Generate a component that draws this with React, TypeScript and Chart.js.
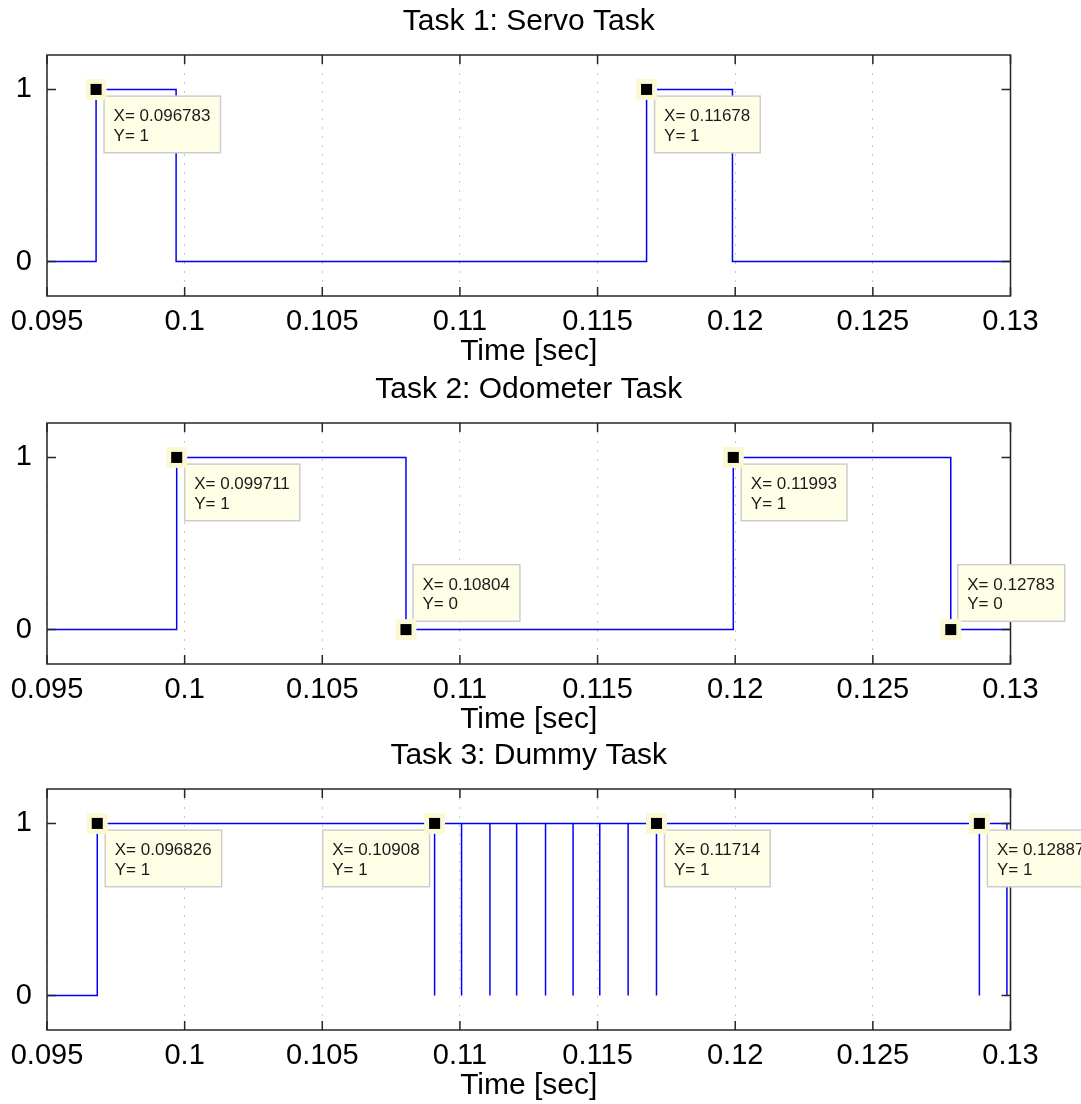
import React, { useEffect, useRef } from 'react';
import { Chart, registerables } from 'chart.js';

Chart.register(...registerables);

const FONT = "'Liberation Sans', Arial, Helvetica, sans-serif";
const TIP_FONT = "'Liberation Sans', Arial, sans-serif";

// ---- axes ----
const xTicks = [0.095, 0.1, 0.105, 0.11, 0.115, 0.12, 0.125, 0.13];
const yTicks = [0, 1];
const xLabel = 'Time [sec]';
const titles = ['Task 1: Servo Task', 'Task 2: Odometer Task', 'Task 3: Dummy Task'];

// ---- Task 1: Servo ----
const servoTimes = [0.095, 0.096783, 0.09969, 0.11678, 0.1199, 0.13];
const servoLevels = [0, 1, 0, 1, 0, 0];
const servoTipX = [0.096783, 0.11678];
const servoTipY = [1, 1];

// ---- Task 2: Odometer ----
const odoTimes = [0.095, 0.099711, 0.10804, 0.11993, 0.12783, 0.13];
const odoLevels = [0, 1, 0, 1, 0, 0];
const odoTipX = [0.099711, 0.10804, 0.11993, 0.12783];
const odoTipY = [1, 0, 1, 0];

// ---- Task 3: Dummy ----
const dummyTimes = [0.095, 0.096826];
const dummyLevels = [0, 1];
const dummyDips = [0.10908, 0.11006, 0.11109, 0.11206, 0.11311, 0.11411, 0.11508, 0.11611, 0.11714, 0.12887, 0.12987];
const dummyEnd = 0.13;
const dummyTipX = [0.096826, 0.10908, 0.11714, 0.12887];
const dummyTipY = [1, 1, 1, 1];

// tip box placement (style only)
const servoTipSide = ['se', 'se'];
const odoTipSide = ['se', 'ne', 'se', 'ne'];
const dummyTipSide = ['se', 'sw', 'se', 'se'];

type Pt = { x: number; y: number };

const stepPoints = (t: number[], v: number[]): Pt[] => t.map((x, i) => ({ x, y: v[i] }));

const servoPoints = stepPoints(servoTimes, servoLevels);
const odoPoints = stepPoints(odoTimes, odoLevels);
const dummyPoints: Pt[] = [
  ...stepPoints(dummyTimes, dummyLevels),
  ...dummyDips.flatMap((d) => [
    { x: d, y: 0 },
    { x: d, y: 1 },
  ]),
  { x: dummyEnd, y: 1 },
];

function makeFramePlugin(tipX: number[], tipY: number[], tipSide: string[]) {
  return {
    id: 'matlabFrame',
    afterDatasetDraw(chart: any, args: any) {
      if (args.index !== 0) return;
      const { ctx, chartArea: a, scales } = chart;
      const xs = scales.x;
      const ys = scales.y;
      ctx.save();
      ctx.setLineDash([]);
      ctx.strokeStyle = '#262626';
      ctx.lineWidth = 1.5;
      ctx.strokeRect(a.left, a.top, a.right - a.left, a.bottom - a.top);
      ctx.beginPath();
      xTicks.forEach((v) => {
        const p = xs.getPixelForValue(v);
        ctx.moveTo(p, a.bottom);
        ctx.lineTo(p, a.bottom - 9);
        ctx.moveTo(p, a.top);
        ctx.lineTo(p, a.top + 9);
      });
      yTicks.forEach((v) => {
        const p = ys.getPixelForValue(v);
        ctx.moveTo(a.left, p);
        ctx.lineTo(a.left + 9, p);
        ctx.moveTo(a.right, p);
        ctx.lineTo(a.right - 9, p);
      });
      ctx.stroke();

      ctx.font = `17px ${TIP_FONT}`;
      tipX.forEach((tx, i) => {
        const ty = tipY[i];
        const mx = xs.getPixelForValue(tx);
        const my = ys.getPixelForValue(ty);
        const l1 = `X= ${tx}`;
        const l2 = `Y= ${ty}`;
        const w = Math.max(ctx.measureText(l1).width, ctx.measureText(l2).width) + 19.5;
        const h = 56.6;
        let left: number;
        let top: number;
        const side = tipSide[i];
        if (side === 'ne') {
          left = mx + 7;
          top = my - 8.3 - h;
        } else if (side === 'sw') {
          left = mx - 5 - w;
          top = my + 6.7;
        } else {
          left = mx + 8;
          top = my + 6.7;
        }
        ctx.fillStyle = '#ffffe8';
        ctx.fillRect(left, top, w, h);
        ctx.strokeStyle = '#cdcdcd';
        ctx.lineWidth = 1.5;
        ctx.strokeRect(left, top, w, h);
        ctx.fillStyle = '#1a1a1a';
        ctx.textAlign = 'left';
        ctx.textBaseline = 'alphabetic';
        ctx.fillText(l1, left + 9.5, top + 24.9);
        ctx.fillText(l2, left + 9.5, top + 44.6);
      });
      ctx.restore();
    },
  };
}

const fmt = (v: any) => String(parseFloat(Number(v).toFixed(4)));

type PanelProps = {
  top: number;
  title: string;
  points: Pt[];
  tipX: number[];
  tipY: number[];
  tipSide: string[];
};

function Panel({ top, title, points, tipX, tipY, tipSide }: PanelProps) {
  const ref = useRef<HTMLCanvasElement>(null);
  useEffect(() => {
    const tips = tipX.map((x, i) => ({ x, y: tipY[i] }));
    const chart = new Chart(ref.current as HTMLCanvasElement, {
      type: 'scatter',
      data: {
        datasets: [
          {
            data: points,
            showLine: true,
            stepped: true,
            borderColor: '#0000ff',
            borderWidth: 1.5,
            pointRadius: 0,
            order: 3,
          } as any,
          {
            data: tips,
            pointStyle: 'rect',
            pointRadius: 14.8,
            backgroundColor: '#fbf9d3',
            borderWidth: 0,
            showLine: false,
            clip: false,
            order: 2,
          } as any,
          {
            data: tips,
            pointStyle: 'rect',
            pointRadius: 7.8,
            backgroundColor: '#000000',
            borderWidth: 0,
            showLine: false,
            clip: false,
            order: 1,
          } as any,
        ],
      },
      options: {
        responsive: false,
        animation: false,
        events: [],
        layout: { padding: { left: 0, right: 70.5, top: 0, bottom: 0 } },
        plugins: {
          legend: { display: false },
          tooltip: { enabled: false },
          title: {
            display: true,
            text: title,
            fullSize: false,
            color: '#000',
            font: { family: FONT, size: 30, weight: 'normal' as any },
            padding: { top: 3.5, bottom: 15.5 },
          },
        },
        scales: {
          x: {
            type: 'linear',
            min: xTicks[0],
            max: xTicks[xTicks.length - 1],
            afterBuildTicks: (s: any) => {
              s.ticks = xTicks.map((value) => ({ value }));
            },
            afterFit: (s: any) => {
              s.height = 74;
            },
            grid: { display: true, drawTicks: false, color: '#c8c8c8', lineWidth: 1 },
            border: { display: false, dash: [2, 7] },
            ticks: {
              autoSkip: false,
              maxRotation: 0,
              minRotation: 0,
              padding: 8.2,
              color: '#000',
              font: { family: FONT, size: 29 },
              callback: (v: any) => fmt(v),
            },
            title: {
              display: true,
              text: xLabel,
              color: '#000',
              font: { family: FONT, size: 30 },
              padding: { top: 0, bottom: 0 },
            },
          },
          y: {
            type: 'linear',
            min: -0.2,
            max: 1.2,
            afterBuildTicks: (s: any) => {
              s.ticks = yTicks.map((value) => ({ value }));
            },
            afterFit: (s: any) => {
              s.width = 47;
            },
            grid: { display: false },
            border: { display: false },
            ticks: {
              padding: 7,
              color: '#000',
              font: { family: FONT, size: 29 },
              callback: (v: any) => fmt(v),
            },
          },
        },
      } as any,
      plugins: [makeFramePlugin(tipX, tipY, tipSide)],
    });
    return () => chart.destroy();
  }, []);
  return (
    <canvas
      ref={ref}
      width={1081}
      height={370}
      style={{ position: 'absolute', left: 0, top, width: 1081, height: 370 }}
    />
  );
}

export default function App() {
  return (
    <div
      style={{
        position: 'absolute',
        left: 0,
        top: 0,
        width: 1081,
        height: 1104,
        background: '#ffffff',
        overflow: 'hidden',
      }}
    >
      <Panel top={0} title={titles[0]} points={servoPoints} tipX={servoTipX} tipY={servoTipY} tipSide={servoTipSide} />
      <Panel top={368} title={titles[1]} points={odoPoints} tipX={odoTipX} tipY={odoTipY} tipSide={odoTipSide} />
      <Panel top={734} title={titles[2]} points={dummyPoints} tipX={dummyTipX} tipY={dummyTipY} tipSide={dummyTipSide} />
    </div>
  );
}
